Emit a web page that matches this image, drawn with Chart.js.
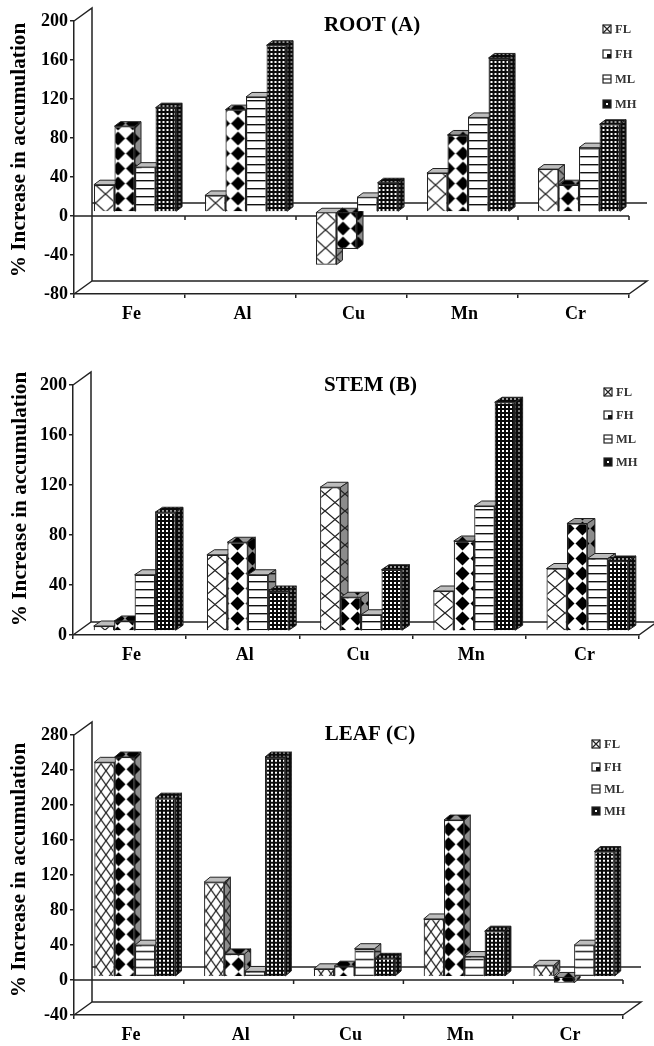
<!DOCTYPE html>
<html>
<head>
<meta charset="utf-8">
<title>% Increase in accumulation</title>
<script src="https://cdn.jsdelivr.net/npm/chart.js@4"></script>
<style>
  html, body { margin: 0; background: #fff; }
  canvas { position: absolute; left: 0; filter: blur(0.4px); }
</style>
</head>
<body>
<canvas id="chart_root"></canvas>
<canvas id="chart_stem"></canvas>
<canvas id="chart_leaf"></canvas>
<script>
const categories = ['Fe', 'Al', 'Cu', 'Mn', 'Cr'];
const seriesNames = ['FL', 'FH', 'ML', 'MH'];

const rootFL = [28, 17, -54, 40, 44];
const rootFH = [88, 105, -38, 79, 28];
const rootML = [46, 118, 15, 97, 66];
const rootMH = [107, 171, 30, 158, 90];

const stemFL = [4, 61, 115, 32, 50];
const stemFH = [8, 71, 27, 72, 86];
const stemML = [45, 45, 13, 100, 58];
const stemMH = [95, 32, 49, 183, 56];

const leafFL = [245, 108, 9, 66, 13];
const leafFH = [251, 26, 12, 179, -7];
const leafML = [36, 6, 32, 23, 36];
const leafMH = [204, 251, 21, 52, 143];

const FONT = '"Liberation Serif"';
const INK = '#222';
const W = 654;

function tile(w, h, paint) {
  const c = document.createElement('canvas');
  c.width = w;
  c.height = h;
  paint(c.getContext('2d'));
  return document.createElement('canvas').getContext('2d').createPattern(c, 'repeat');
}

function makeFill(name, bg, xw, xh) {
  if (name === 'FL') {
    return tile(xw, xh, g => {
      g.fillStyle = bg;
      g.fillRect(0, 0, xw, xh);
      g.strokeStyle = '#222';
      g.lineWidth = 1.3;
      g.beginPath();
      g.moveTo(0, 0); g.lineTo(xw, xh);
      g.moveTo(xw, 0); g.lineTo(0, xh);
      g.stroke();
    });
  }
  if (name === 'FH') {
    return tile(15, 15, g => {
      g.fillStyle = bg;
      g.fillRect(0, 0, 15, 15);
      g.fillStyle = '#000';
      g.beginPath();
      g.moveTo(7.5, 0.5); g.lineTo(14.5, 7.5); g.lineTo(7.5, 14.5); g.lineTo(0.5, 7.5);
      g.fill();
    });
  }
  if (name === 'ML') {
    return tile(8, 8, g => {
      g.fillStyle = bg;
      g.fillRect(0, 0, 8, 8);
      g.fillStyle = '#111';
      g.fillRect(0, 0, 8, 1.4);
    });
  }
  return tile(4, 4, g => {
    g.fillStyle = '#0a0a0a';
    g.fillRect(0, 0, 4, 4);
    g.fillStyle = bg;
    g.fillRect(1, 1, 2, 2);
  });
}

function legendMark(ctx, name, x, y, size) {
  ctx.fillStyle = name === 'MH' ? '#111' : '#fff';
  ctx.fillRect(x, y, size, size);
  ctx.strokeStyle = '#222';
  ctx.lineWidth = 1.2;
  ctx.strokeRect(x, y, size, size);
  ctx.beginPath();
  if (name === 'FL') {
    ctx.moveTo(x, y); ctx.lineTo(x + size, y + size);
    ctx.moveTo(x + size, y); ctx.lineTo(x, y + size);
    ctx.stroke();
  } else if (name === 'FH') {
    ctx.fillStyle = '#111';
    ctx.fillRect(x + size / 2, y + size / 2, size / 2, size / 2);
  } else if (name === 'ML') {
    ctx.moveTo(x, y + size / 2); ctx.lineTo(x + size, y + size / 2);
    ctx.stroke();
  } else {
    ctx.fillStyle = '#fff';
    ctx.fillRect(x + size / 2 - 1, y + size / 2 - 1, 2, 2);
  }
}

function drawBarFaces(ctx, meta, ds, o) {
  ctx.strokeStyle = '#222';
  ctx.lineWidth = 1;
  meta.data.forEach(bar => {
    const l = bar.x - bar.width / 2;
    const r = bar.x + bar.width / 2;
    const t = Math.min(bar.y, bar.base);
    const b = Math.max(bar.y, bar.base);
    ctx.fillStyle = ds.topFill;
    ctx.beginPath();
    ctx.moveTo(l, t); ctx.lineTo(l + o.depthX, t - o.depthY);
    ctx.lineTo(r + o.depthX, t - o.depthY); ctx.lineTo(r, t);
    ctx.closePath();
    ctx.fill();
    ctx.stroke();
    ctx.fillStyle = ds.sideFill;
    ctx.beginPath();
    ctx.moveTo(r, t); ctx.lineTo(r + o.depthX, t - o.depthY);
    ctx.lineTo(r + o.depthX, b - o.depthY); ctx.lineTo(r, b);
    ctx.closePath();
    ctx.fill();
    ctx.stroke();
  });
}

// back walls, floor, zero lines, the bars' 3D faces and the free text
const scene = {
  id: 'scene',
  beforeDatasetsDraw(chart, args, o) {
    const { ctx, chartArea: a, scales: { y } } = chart;
    const zero = y.getPixelForValue(0);
    ctx.save();
    ctx.strokeStyle = INK;
    ctx.lineWidth = 1.5;
    ctx.beginPath();
    ctx.moveTo(a.left, a.top); ctx.lineTo(a.left + o.backX, a.top - o.backY);
    ctx.lineTo(a.left + o.backX, a.bottom - o.backY);
    ctx.lineTo(a.right + o.backX, a.bottom - o.backY);
    ctx.lineTo(a.right, a.bottom);
    ctx.moveTo(a.left, a.bottom); ctx.lineTo(a.left + o.backX, a.bottom - o.backY);
    if (y.min < 0) {
      ctx.moveTo(a.left + o.backX, zero - o.backY); ctx.lineTo(a.right + o.backX, zero - o.backY);
      ctx.moveTo(a.left, zero); ctx.lineTo(a.right, zero);
      const step = a.width / categories.length;
      for (let i = 1; i <= categories.length; i++) {
        ctx.moveTo(a.left + step * i, zero); ctx.lineTo(a.left + step * i, zero + 4);
      }
    }
    ctx.stroke();
    ctx.restore();

    // front to back order: the later series sit over the earlier ones
    chart.data.datasets.forEach((ds, i) => {
      const meta = chart.getDatasetMeta(i);
      ctx.save();
      ctx.translate(o.shiftX, o.shiftY);
      meta.controller.draw();
      drawBarFaces(ctx, meta, ds, o);
      ctx.restore();
    });
    return false;
  },
  afterDraw(chart, args, o) {
    const ctx = chart.ctx;
    ctx.save();
    ctx.translate(0, -o.top);
    ctx.fillStyle = '#000';
    ctx.textAlign = 'center';
    ctx.textBaseline = 'middle';
    ctx.font = 'bold 21px ' + FONT;
    ctx.fillText(o.title, o.titleX, o.titleY);

    ctx.save();
    ctx.translate(o.yTitleX, o.yTitleY);
    ctx.rotate(-Math.PI / 2);
    ctx.font = 'bold 21.3px ' + FONT;
    ctx.fillText('% Increase in accumulation', 0, 0);
    ctx.restore();

    ctx.textAlign = 'left';
    ctx.font = 'bold 12.5px ' + FONT;
    chart.data.datasets.forEach((ds, i) => {
      legendMark(ctx, ds.label, o.legendX, o.legendY[i] - 4, 8);
      ctx.fillStyle = '#333';
      ctx.fillText(ds.label, o.legendX + 12, o.legendY[i] + 0.5);
    });
    ctx.restore();
  }
};

function drawPanel(id, rows, cfg) {
  const canvas = document.getElementById(id);
  canvas.width = W;
  canvas.height = cfg.height;
  canvas.style.top = cfg.top + 'px';
  const datasets = seriesNames.map(name => ({
    label: name,
    data: rows[seriesNames.indexOf(name)],
    backgroundColor: makeFill(name, '#fff', cfg.xw, cfg.xh),
    sideFill: makeFill(name, name === 'MH' ? '#777' : '#8c8c8c', cfg.xw, cfg.xh),
    topFill: name === 'FH' || name === 'MH' ? makeFill(name, '#999', cfg.xw, cfg.xh) : '#bdbdbd',
    borderColor: '#222',
    borderWidth: 1.2,
    barPercentage: 1,
    categoryPercentage: cfg.groupWidth
  }));
  new Chart(canvas.getContext('2d'), {
    type: 'bar',
    data: { labels: categories, datasets: datasets },
    plugins: [scene],
    options: {
      responsive: false,
      animation: false,
      layout: {
        padding: { left: 0, top: cfg.areaTop - cfg.top, right: W - cfg.areaRight, bottom: 0 }
      },
      scales: {
        x: {
          afterFit(s) { s.height = cfg.top + cfg.height - cfg.areaBottom; },
          grid: { drawOnChartArea: false, tickLength: 4, color: INK, lineWidth: 1.5 },
          border: { color: INK, width: 1.5 },
          ticks: {
            color: '#000', padding: 6, maxRotation: 0, labelOffset: 2,
            font: { family: FONT, size: 18, weight: 'bold' }
          }
        },
        y: {
          min: cfg.min,
          max: cfg.max,
          afterFit(s) { s.width = cfg.areaLeft; },
          grid: { drawOnChartArea: false, tickLength: 4, color: INK, lineWidth: 1.5 },
          border: { color: INK, width: 1.5 },
          ticks: {
            stepSize: 40, color: '#000', padding: 2,
            font: { family: FONT, size: 18, weight: 'bold' }
          }
        }
      },
      plugins: {
        legend: { display: false },
        tooltip: { enabled: false },
        scene: {
          top: cfg.top,
          title: cfg.title, titleX: cfg.titleX, titleY: cfg.titleY,
          yTitleX: cfg.yTitleX, yTitleY: cfg.yTitleY,
          legendX: cfg.legendX, legendY: cfg.legendY,
          backX: 18, backY: 13,
          shiftX: cfg.shiftX, shiftY: cfg.shiftY,
          depthX: cfg.depthX, depthY: cfg.depthY
        }
      }
    }
  });
}

drawPanel('chart_root', [rootFL, rootFH, rootML, rootMH], {
  top: 0, height: 335, areaLeft: 74, areaRight: 629, areaTop: 21, areaBottom: 294,
  min: -80, max: 200, groupWidth: 0.74, shiftX: 5.5, shiftY: -4, depthX: 6, depthY: 4.5,
  xw: 20, xh: 18,
  title: 'ROOT (A)', titleX: 372, titleY: 26, yTitleX: 19, yTitleY: 150,
  legendX: 603, legendY: [29, 54, 79, 104]
});

drawPanel('chart_stem', [stemFL, stemFH, stemML, stemMH], {
  top: 345, height: 330, areaLeft: 73, areaRight: 639, areaTop: 385, areaBottom: 635,
  min: 0, max: 200, groupWidth: 0.723, shiftX: 5, shiftY: -4, depthX: 7.5, depthY: 5,
  xw: 20, xh: 17,
  title: 'STEM (B)', titleX: 370.5, titleY: 386, yTitleX: 20, yTitleY: 499,
  legendX: 604, legendY: [392, 415, 439, 462]
});

drawPanel('chart_leaf', [leafFL, leafFH, leafML, leafMH], {
  top: 690, height: 356, areaLeft: 74, areaRight: 623, areaTop: 735, areaBottom: 1015,
  min: -40, max: 280, groupWidth: 0.74, shiftX: 6, shiftY: -3.3, depthX: 6, depthY: 5,
  xw: 10, xh: 14,
  title: 'LEAF (C)', titleX: 370, titleY: 735, yTitleX: 19, yTitleY: 870,
  legendX: 592, legendY: [744, 767, 789, 811]
});
</script>
</body>
</html>
